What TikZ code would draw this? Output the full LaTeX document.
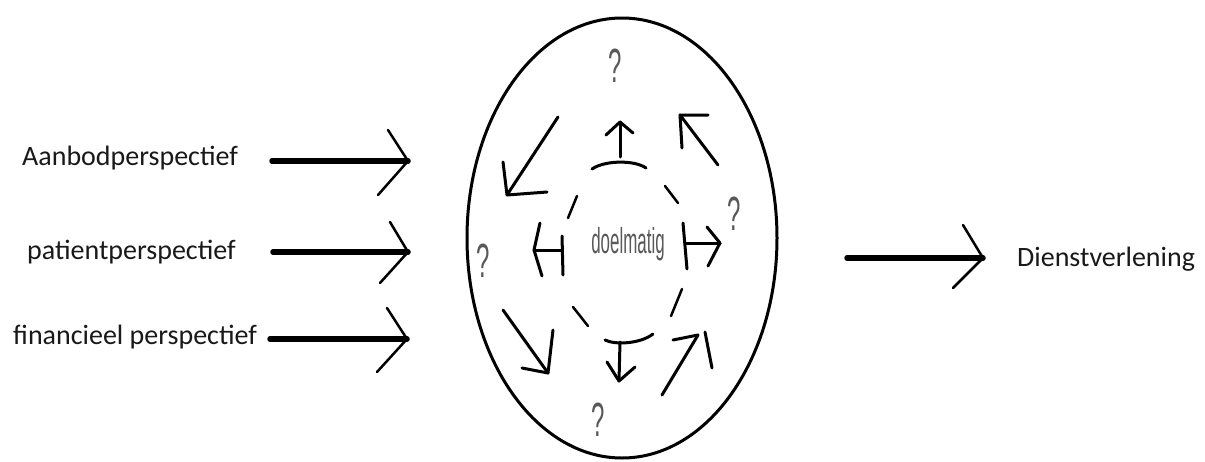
\documentclass[tikz,border=0pt]{standalone}
\usepackage{fontspec}
\setmainfont{Carlito}
\newfontfamily\narrowfont{Liberation Sans}
\begin{document}
\begin{tikzpicture}[x=1pt,y=-1pt,line cap=round,line join=round,
  shaft/.style={line width=5.5pt},
  headline/.style={line width=2.5pt},
  inarrow/.style={line width=3pt},
  dashseg/.style={line width=2.5pt},
  lbl/.style={font=\fontsize{28}{30}\selectfont,inner sep=0pt,text=black!90},
  qm/.style={font=\narrowfont\fontsize{48}{48}\selectfont,inner sep=0pt,text=black!65},
  center/.style={font=\narrowfont\fontsize{36}{36}\selectfont,inner sep=0pt,text=black!65}]
\useasboundingbox[fill=white] (0,0) rectangle (1205,461);

% outer ellipse
\draw[line width=3pt] (622,238) ellipse [x radius=155, y radius=220];
% inner dashed circle (separate dashes)
\draw[dashseg] (665,186) -- (678,203);
\draw[dashseg] (577,196) -- (568,218);
\draw[dashseg] (573,307) -- (588,326);
\draw[dashseg] (682,289) -- (671,316);

% labels
\node[lbl,anchor=west] (aan) at (22,158) {Aanbodperspectief};
\node[lbl,anchor=west] (pat) at (27,252) {patientperspectief};
\node[lbl,anchor=west] (fin) at (13,337) {financieel perspectief};
\node[lbl,anchor=west] (dien) at (1017,259) {Dienstverlening};
\node[center] (doel) at (628,244) {\scalebox{0.47}[1]{doelmatig}};
\node[qm] (q1) at (615,66) {\scalebox{0.5}[1]{?}};
\node[qm] (q2) at (734,214) {\scalebox{0.5}[1]{?}};
\node[qm] (q3) at (483,261) {\scalebox{0.5}[1]{?}};
\node[qm] (q4) at (598,420) {\scalebox{0.5}[1]{?}};

% left input arrows
\coordinate (a1s) at (272,161); \coordinate (a1e) at (408,161);
\coordinate (h1a) at (388,130); \coordinate (h1b) at (378,195);
\coordinate (a2s) at (273,252); \coordinate (a2e) at (408,252);
\coordinate (h2a) at (390,222); \coordinate (h2b) at (380,283);
\coordinate (a3s) at (270,339); \coordinate (a3e) at (407,339);
\coordinate (h3a) at (387,308); \coordinate (h3b) at (377,372);
\draw[shaft] (a1s) -- (a1e);
\draw[headline] (h1a) -- (a1e) -- (h1b);
\draw[shaft] (a2s) -- (a2e);
\draw[headline] (h2a) -- (a2e) -- (h2b);
\draw[shaft] (a3s) -- (a3e);
\draw[headline] (h3a) -- (a3e) -- (h3b);

% output arrow
\coordinate (rs) at (847,258); \coordinate (re) at (983,258);
\coordinate (rha) at (963,225); \coordinate (rhb) at (953,288);
\draw[shaft] (rs) -- (re);
\draw[headline] (rha) -- (re) -- (rhb);

% inner arrows
% top
\coordinate (t1) at (620,157); \coordinate (t2) at (620,122);
\draw[inarrow] (592,169) .. controls (605,160) and (635,160) .. (646,168);
\draw[inarrow] (t1) -- (t2);
\draw[inarrow] (606,135) -- (t2) -- (633,133);
% upper left
\coordinate (ul1) at (558,117); \coordinate (ul2) at (507,195);
\draw[inarrow] (ul1) -- (ul2);
\draw[inarrow] (503,162) -- (ul2) -- (547,192);
% upper right
\coordinate (ur1) at (718,165); \coordinate (ur2) at (680,115);
\draw[inarrow] (ur1) -- (ur2);
\draw[inarrow] (708,115) -- (ur2) -- (682,148);
% left
\coordinate (l1) at (562,250); \coordinate (l2) at (534,250);
\draw[inarrow] (562,236) -- (563,275);
\draw[inarrow] (l1) -- (l2);
\draw[inarrow] (540,223) -- (l2) -- (542,276);
% right
\coordinate (r1) at (686,243); \coordinate (r2) at (720,243);
\draw[inarrow] (683,223) -- (687,269);
\draw[inarrow] (r1) -- (r2);
\draw[inarrow] (707,227) -- (r2) -- (708,266);
% bottom
\coordinate (b1) at (620,342); \coordinate (b2) at (619,381);
\draw[inarrow] (605,340) .. controls (615,345) and (640,344) .. (653,334);
\draw[inarrow] (b1) -- (b2);
\draw[inarrow] (607,362) -- (b2) -- (635,367);
% lower left
\coordinate (ll1) at (503,310); \coordinate (ll2) at (548,373);
\draw[inarrow] (ll1) -- (ll2);
\draw[inarrow] (553,330) -- (ll2) -- (522,368);
% lower right
\coordinate (lr1) at (662,395); \coordinate (lr2) at (698,335);
\draw[inarrow] (lr1) -- (lr2);
\draw[inarrow] (673,340) -- (lr2);
\draw[inarrow] (705,332) -- (712,368);
\end{tikzpicture}
\end{document}
